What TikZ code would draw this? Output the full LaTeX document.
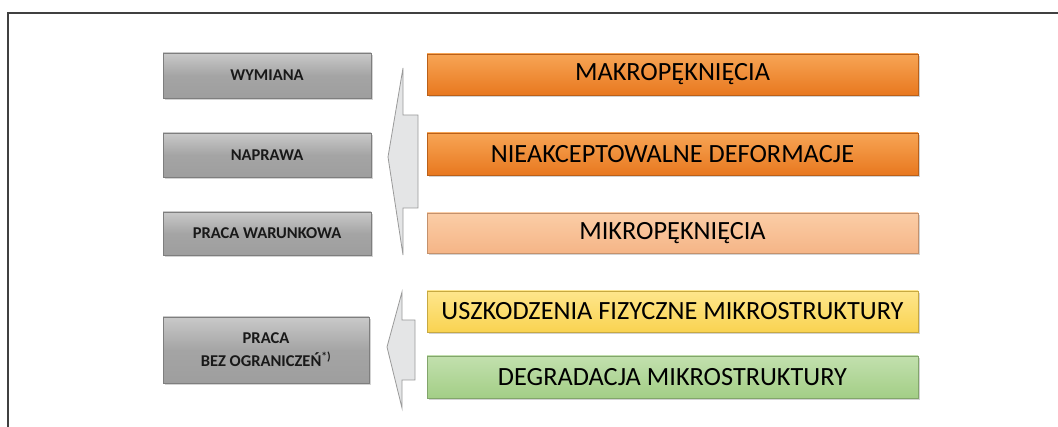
\documentclass[tikz,border=0pt]{standalone}
\usepackage{fontspec}
\setmainfont{Carlito}
\usetikzlibrary{shadows}
\definecolor{grayTop}{HTML}{C9C9C9}
\definecolor{grayBot}{HTML}{9E9E9E}
\definecolor{orTop}{HTML}{F7A555}
\definecolor{orBot}{HTML}{E8781F}
\definecolor{lorTop}{HTML}{FBCDA6}
\definecolor{lorBot}{HTML}{F5B587}
\definecolor{yeTop}{HTML}{FEE68C}
\definecolor{yeBot}{HTML}{F9D351}
\definecolor{grTop}{HTML}{C2E0AE}
\definecolor{grBot}{HTML}{A3CE86}
\definecolor{arrowFill}{HTML}{E4E5E6}
\definecolor{arrowLine}{HTML}{9A9A9A}
\begin{document}
\begin{tikzpicture}[x=1pt,y=-1pt,
  actionbox/.style={minimum width=208pt, inner sep=0pt, align=center,
    top color=grayTop, bottom color=grayBot, middle color=grayBot!85!grayTop,
    draw=grayBot!80!black, line width=0.4pt,
    drop shadow={shadow xshift=1.5pt, shadow yshift=-2pt, opacity=0.35},
    font=\fontsize{16.5}{19}\selectfont\bfseries, text=black!90},
  statebox/.style={minimum width=491pt, inner sep=0pt,
    line width=0.4pt,
    drop shadow={shadow xshift=1.5pt, shadow yshift=-2pt, opacity=0.35},
    font=\fontsize{26.3}{30}\selectfont, text=black},
  bigarrow/.style={fill=arrowFill, draw=arrowLine, line width=0.8pt, line join=miter}]

\useasboundingbox (0,0) rectangle (1058,427);

% frame lines
\draw[line width=1.2pt, black!75] (8,427) -- (8,13) -- (1058,13);

% actions on the left
\node[actionbox, minimum height=45pt] (wym) at (267,75.5) {WYMIANA};
\node[actionbox, minimum height=44pt] (nap) at (267,155) {NAPRAWA};
\node[actionbox, minimum height=43pt] (war) at (267,233.5) {PRACA WARUNKOWA};
\node[actionbox, minimum width=206pt, minimum height=66pt] (bez) at (266,350)
  {PRACA\\[4pt]BEZ OGRANICZEŃ\textsuperscript{*)}};

% damage states on the right
\node[statebox, minimum height=41pt, top color=orTop, bottom color=orBot, draw=orBot!80!black] (makro) at (672.5,74.5) {MAKROPĘKNIĘCIA};
\node[statebox, minimum height=42pt, top color=orTop, bottom color=orBot, draw=orBot!80!black] (def) at (672.5,154) {NIEAKCEPTOWALNE DEFORMACJE};
\node[statebox, minimum height=40pt, top color=lorTop, bottom color=lorBot, draw=lorBot!80!black] (mikro) at (672.5,233) {MIKROPĘKNIĘCIA};
\node[statebox, minimum height=41pt, top color=yeTop, bottom color=yeBot, draw=yeBot!80!black] (uszk) at (672.5,311.5) {USZKODZENIA FIZYCZNE MIKROSTRUKTURY};
\node[statebox, minimum height=42pt, top color=grTop, bottom color=grBot, draw=grBot!80!black] (degr) at (672.5,377) {DEGRADACJA MIKROSTRUKTURY};

% block arrows pointing to the actions
\draw[bigarrow] (388,157) -- (403,68) -- (403,115) -- (418,115) -- (418,208)
  -- (403,208) -- (403,255) -- cycle;
\draw[bigarrow] (387,347) -- (402,292) -- (402,320) -- (415,320) -- (415,380)
  -- (402,380) -- (402,408) -- cycle;

\end{tikzpicture}
\end{document}
